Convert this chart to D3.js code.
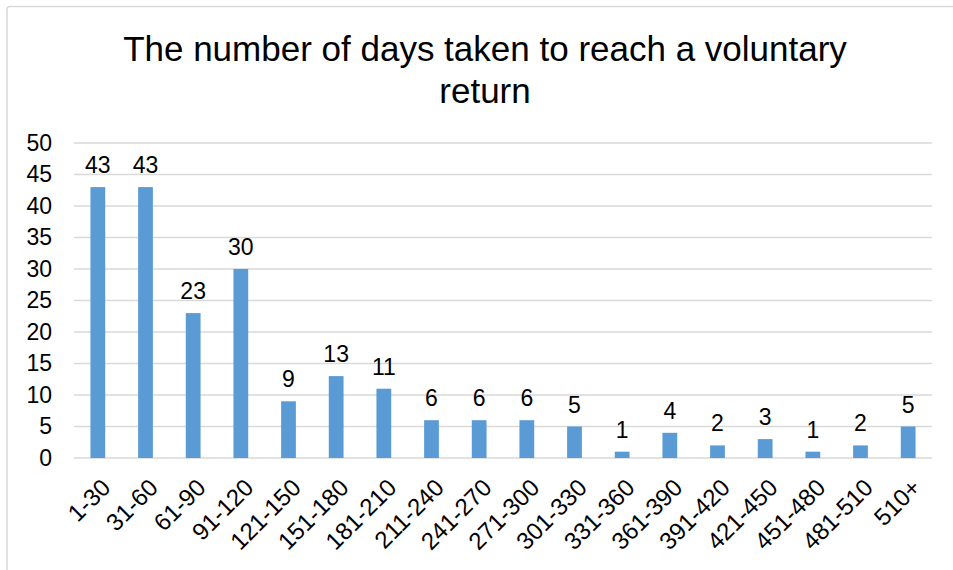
<!DOCTYPE html>
<html lang="en">
<head>
<meta charset="UTF-8">
<title>Days to voluntary return</title>
<script src="https://d3js.org/d3.v7.min.js"></script>
<style>
    body { margin: 0; background: #fff; }
    svg { display: block; font-family: "Liberation Sans", Arial, sans-serif; }
</style>
</head>
<body>
<svg id="chart" width="953" height="570"></svg>
<script>
    // Data
    const categories = ['1-30', '31-60', '61-90', '91-120', '121-150', '151-180', '181-210', '211-240',
        '241-270', '271-300', '301-330', '331-360', '361-390', '391-420', '421-450', '451-480', '481-510', '510+'];
    const counts = [43, 43, 23, 30, 9, 13, 11, 6, 6, 6, 5, 1, 4, 2, 3, 1, 2, 5];
    const yTicks = [0, 5, 10, 15, 20, 25, 30, 35, 40, 45, 50];
    const titleLines = ['The number of days taken to reach a voluntary', 'return'];

    const svg = d3.select('#chart');
    const width = 953, height = 570;
    const margin = { top: 143, right: 21, bottom: 112, left: 74 };
    const font = '"Liberation Sans", Arial, sans-serif';

    // chart frame (only top/left visible in the crop)
    svg.append('rect')
        .attr('x', 7).attr('y', 6.5)
        .attr('width', width + 20).attr('height', height + 20)
        .attr('rx', 3)
        .attr('fill', 'none')
        .attr('stroke', '#d9d9d9')
        .attr('stroke-width', 1.5);

    const x = d3.scaleBand()
        .domain(categories)
        .range([margin.left, width - margin.right])
        .paddingInner(0.69)
        .paddingOuter(0.345);

    const y = d3.scaleLinear()
        .domain([0, 50])
        .range([height - margin.bottom, margin.top]);

    // title
    svg.append('text')
        .attr('text-anchor', 'middle')
        .attr('font-family', font)
        .attr('font-size', 35)
        .attr('fill', '#000')
        .selectAll('tspan')
        .data(titleLines)
        .join('tspan')
        .attr('x', 485)
        .attr('y', (d, i) => 61 + i * 42)
        .text(d => d);

    // gridlines
    svg.append('g')
        .selectAll('line')
        .data(yTicks)
        .join('line')
        .attr('x1', margin.left)
        .attr('x2', width - margin.right)
        .attr('y1', d => y(d))
        .attr('y2', d => y(d))
        .attr('stroke', '#d9d9d9')
        .attr('stroke-width', 1.5);

    // y axis labels
    const yAxis = d3.axisLeft(y).tickValues(yTicks).tickSize(0).tickPadding(22);
    svg.append('g')
        .attr('transform', `translate(${margin.left},0)`)
        .call(yAxis)
        .call(g => g.select('.domain').remove())
        .call(g => g.selectAll('text')
            .attr('font-size', 23)
            .attr('fill', '#000')
            .attr('font-family', font));

    // bars
    svg.append('g')
        .selectAll('rect')
        .data(categories)
        .join('rect')
        .attr('x', d => x(d))
        .attr('width', x.bandwidth())
        .attr('y', (d, i) => y(counts[i]))
        .attr('height', (d, i) => y(0) - y(counts[i]))
        .attr('fill', '#5b9bd5');

    // value labels
    svg.append('g')
        .selectAll('text')
        .data(categories)
        .join('text')
        .attr('x', d => x(d) + x.bandwidth() / 2)
        .attr('y', (d, i) => y(counts[i]) - 14)
        .attr('text-anchor', 'middle')
        .attr('font-family', font)
        .attr('font-size', 23)
        .attr('fill', '#000')
        .text((d, i) => counts[i]);

    // x axis labels
    const xAxis = d3.axisBottom(x).tickSize(0).tickPadding(0);
    svg.append('g')
        .attr('transform', `translate(0,${y(0)})`)
        .call(xAxis)
        .call(g => g.select('.domain').remove())
        .call(g => g.selectAll('text')
            .attr('font-size', 24)
            .attr('fill', '#000')
            .attr('font-family', font)
            .attr('text-anchor', 'end')
            .attr('dy', null)
            .attr('y', 0)
            .attr('transform', 'translate(14,31) rotate(-45)'));
</script>
</body>
</html>
